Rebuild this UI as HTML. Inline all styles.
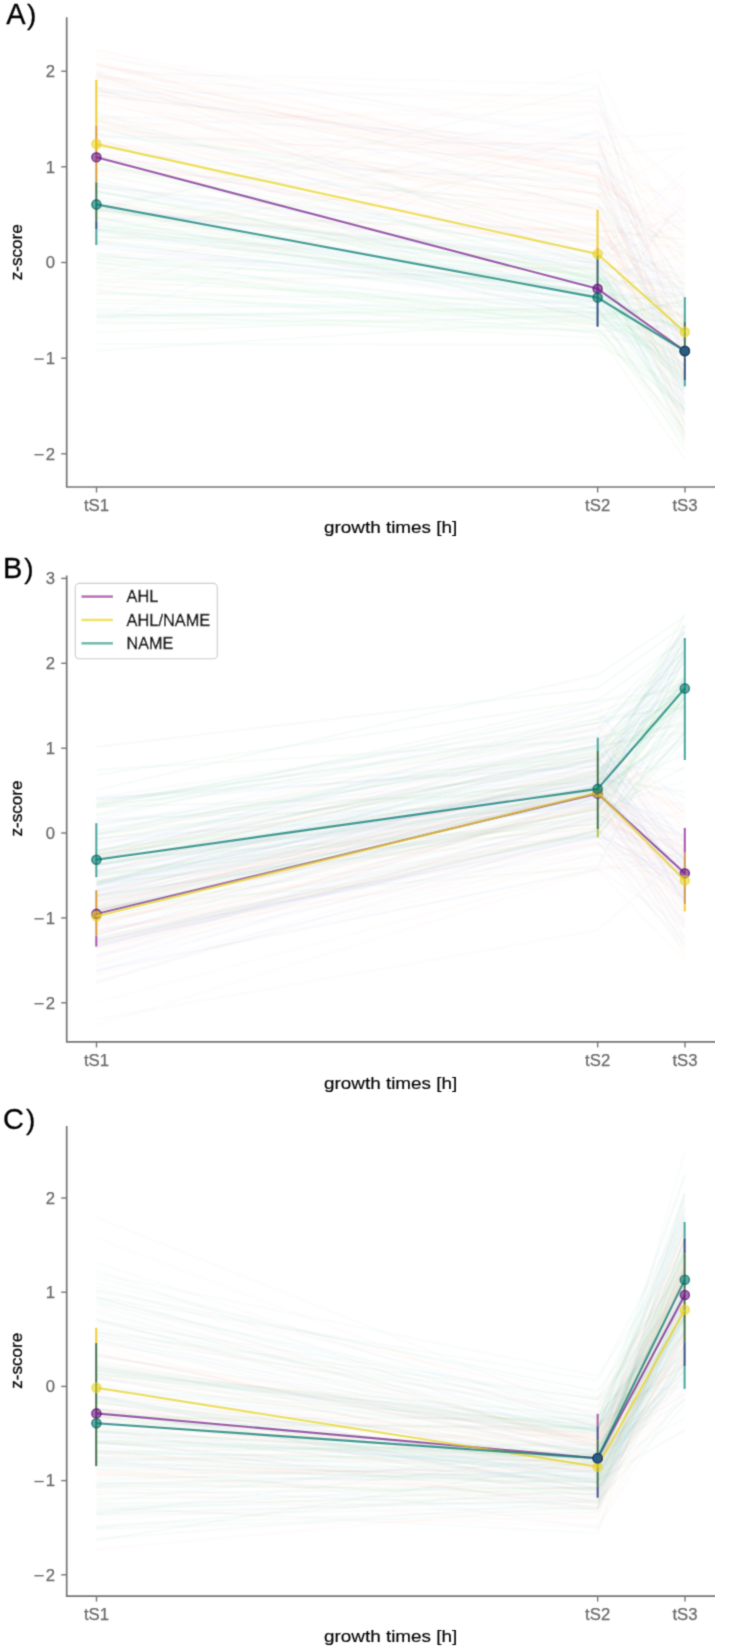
<!DOCTYPE html><html><head><meta charset="utf-8"><style>html,body{margin:0;padding:0;background:#fff;}svg{display:block;}</style></head><body>
<svg width="732" height="1652" viewBox="0 0 732 1652" font-family='"Liberation Sans", sans-serif'>
<defs><filter id="bl" x="0" y="0" width="100%" height="100%"><feConvolveMatrix order="3" kernelMatrix="1 4 1 4 16 4 1 4 1" divisor="36" edgeMode="duplicate"/></filter></defs>
<rect width="732" height="1652" fill="#fff"/>
<g filter="url(#bl)">
<path d="M66.7 17.2V487.0H714.4" fill="none" stroke="#767676" stroke-width="1.7"/>
<line x1="61.2" y1="71.2" x2="66.7" y2="71.2" stroke="#767676" stroke-width="1.4"/>
<text x="55.0" y="76.9" font-size="16.7" fill="#6a6a6a" stroke="#6a6a6a" stroke-width="0.25" text-anchor="end">2</text>
<line x1="61.2" y1="166.8" x2="66.7" y2="166.8" stroke="#767676" stroke-width="1.4"/>
<text x="55.0" y="172.6" font-size="16.7" fill="#6a6a6a" stroke="#6a6a6a" stroke-width="0.25" text-anchor="end">1</text>
<line x1="61.2" y1="262.5" x2="66.7" y2="262.5" stroke="#767676" stroke-width="1.4"/>
<text x="55.0" y="268.2" font-size="16.7" fill="#6a6a6a" stroke="#6a6a6a" stroke-width="0.25" text-anchor="end">0</text>
<line x1="61.2" y1="358.2" x2="66.7" y2="358.2" stroke="#767676" stroke-width="1.4"/>
<text x="55.0" y="363.9" font-size="16.7" fill="#6a6a6a" stroke="#6a6a6a" stroke-width="0.25" text-anchor="end">1</text>
<rect x="34.4" y="358.41" width="9.3" height="1.35" fill="#6a6a6a"/>
<line x1="61.2" y1="453.8" x2="66.7" y2="453.8" stroke="#767676" stroke-width="1.4"/>
<text x="55.0" y="459.6" font-size="16.7" fill="#6a6a6a" stroke="#6a6a6a" stroke-width="0.25" text-anchor="end">2</text>
<rect x="34.4" y="454.07" width="9.3" height="1.35" fill="#6a6a6a"/>
<line x1="96.5" y1="487.0" x2="96.5" y2="492.5" stroke="#767676" stroke-width="1.4"/>
<text x="96.5" y="511.0" font-size="16.7" fill="#6a6a6a" stroke="#6a6a6a" stroke-width="0.25" text-anchor="middle">tS1</text>
<line x1="597.65" y1="487.0" x2="597.65" y2="492.5" stroke="#767676" stroke-width="1.4"/>
<text x="597.65" y="511.0" font-size="16.7" fill="#6a6a6a" stroke="#6a6a6a" stroke-width="0.25" text-anchor="middle">tS2</text>
<line x1="685.0" y1="487.0" x2="685.0" y2="492.5" stroke="#767676" stroke-width="1.4"/>
<text x="685.0" y="511.0" font-size="16.7" fill="#6a6a6a" stroke="#6a6a6a" stroke-width="0.25" text-anchor="middle">tS3</text>
<text x="6.3" y="24.0" font-size="29" fill="#000" stroke="#000" stroke-width="0.3">A</text>
<text x="27" y="24.0" font-size="28" fill="#000" stroke="#000" stroke-width="0.3">)</text>
<text transform="translate(22.2,252.2) rotate(-90)" font-size="16.7" fill="#000" stroke="#000" stroke-width="0.28" text-anchor="middle" textLength="56" lengthAdjust="spacingAndGlyphs">z-score</text>
<text x="324.0" y="532.8" font-size="16.7" fill="#000" stroke="#000" stroke-width="0.15" textLength="133.3" lengthAdjust="spacingAndGlyphs">growth times [h]</text>
<g fill="none" stroke-width="2.2" stroke-opacity="0.027" stroke-linejoin="round">
<polyline points="96.4,65.9 597.65,137.3 684.8,133.5" stroke="#6890e8"/>
<polyline points="96.4,64.5 597.65,193.7 684.8,245.9" stroke="#ff8060"/>
<polyline points="96.4,79.1 597.65,195.5 684.8,148.1" stroke="#ff8060"/>
<polyline points="96.4,63.4 597.65,161.4 684.8,360.1" stroke="#ff8060"/>
<polyline points="96.4,63.6 597.65,176.0 684.8,232.8" stroke="#ff8060"/>
<polyline points="96.4,73.3 597.65,263.5 684.8,220.9" stroke="#6890e8"/>
<polyline points="96.4,127.1 597.65,247.0 684.8,332.9" stroke="#ff8060"/>
<polyline points="96.4,65.2 597.65,177.7 684.8,390.0" stroke="#ff8060"/>
<polyline points="96.4,87.7 597.65,176.2 684.8,376.2" stroke="#ff8060"/>
<polyline points="96.4,133.5 597.65,162.1 684.8,316.6" stroke="#6890e8"/>
<polyline points="96.4,51.0 597.65,141.5 684.8,236.1" stroke="#ff8060"/>
<polyline points="96.4,64.0 597.65,187.9 684.8,356.5" stroke="#ff8060"/>
<polyline points="96.4,60.0 597.65,205.3 684.8,311.2" stroke="#ff8060"/>
<polyline points="96.4,70.8 597.65,246.2 684.8,359.9" stroke="#ff8060"/>
<polyline points="96.4,77.1 597.65,108.1 684.8,297.9" stroke="#ff8060"/>
<polyline points="96.4,76.4 597.65,210.3 684.8,294.7" stroke="#6890e8"/>
<polyline points="96.4,94.3 597.65,155.2 684.8,287.4" stroke="#6890e8"/>
<polyline points="96.4,95.1 597.65,153.3 684.8,211.5" stroke="#ff8060"/>
<polyline points="96.4,94.1 597.65,247.8 684.8,307.5" stroke="#ff8060"/>
<polyline points="96.4,142.9 597.65,216.2 684.8,376.8" stroke="#ff8060"/>
<polyline points="96.4,90.9 597.65,181.8 684.8,237.9" stroke="#ff8060"/>
<polyline points="96.4,145.9 597.65,325.8 684.8,190.4" stroke="#ff8060"/>
<polyline points="96.4,119.8 597.65,241.6 684.8,283.6" stroke="#ff8060"/>
<polyline points="96.4,80.1 597.65,210.6 684.8,411.4" stroke="#ff8060"/>
<polyline points="96.4,129.6 597.65,164.7 684.8,309.5" stroke="#ff8060"/>
<polyline points="96.4,159.8 597.65,242.9 684.8,247.4" stroke="#ff8060"/>
<polyline points="96.4,116.4 597.65,139.1 684.8,353.0" stroke="#6890e8"/>
<polyline points="96.4,54.0 597.65,174.0 684.8,267.3" stroke="#ff8060"/>
<polyline points="96.4,75.6 597.65,176.8 684.8,370.0" stroke="#ff8060"/>
<polyline points="96.4,134.4 597.65,193.8 684.8,320.5" stroke="#6890e8"/>
<polyline points="96.4,101.3 597.65,220.3 684.8,253.7" stroke="#ff8060"/>
<polyline points="96.4,88.6 597.65,208.9 684.8,434.8" stroke="#ff8060"/>
<polyline points="96.4,118.6 597.65,164.6 684.8,284.8" stroke="#ff8060"/>
<polyline points="96.4,90.3 597.65,263.5 684.8,177.3" stroke="#ff8060"/>
<polyline points="96.4,121.6 597.65,265.6 684.8,338.1" stroke="#ff8060"/>
<polyline points="96.4,49.2 597.65,176.5 684.8,298.7" stroke="#ff8060"/>
<polyline points="96.4,136.9 597.65,145.1 684.8,377.6" stroke="#6890e8"/>
<polyline points="96.4,126.2 597.65,193.8 684.8,342.7" stroke="#ff8060"/>
<polyline points="96.4,120.3 597.65,207.8 684.8,215.5" stroke="#ff8060"/>
<polyline points="96.4,75.8 597.65,177.9 684.8,250.7" stroke="#ff8060"/>
<polyline points="96.4,153.7 597.65,250.0 684.8,415.0" stroke="#ff8060"/>
<polyline points="96.4,88.8 597.65,232.2 684.8,220.2" stroke="#ff8060"/>
<polyline points="96.4,117.8 597.65,113.4 684.8,195.7" stroke="#ff8060"/>
<polyline points="96.4,142.7 597.65,192.9 684.8,434.6" stroke="#ff8060"/>
<polyline points="96.4,95.8 597.65,147.6 684.8,312.7" stroke="#ff8060"/>
<polyline points="96.4,133.8 597.65,297.6 684.8,202.2" stroke="#ff8060"/>
<polyline points="96.4,120.3 597.65,256.1 684.8,208.5" stroke="#6890e8"/>
<polyline points="96.4,124.0 597.65,229.6 684.8,336.6" stroke="#ff8060"/>
<polyline points="96.4,107.0 597.65,155.3 684.8,326.9" stroke="#ff8060"/>
<polyline points="96.4,112.4 597.65,266.8 684.8,273.4" stroke="#6890e8"/>
<polyline points="96.4,78.1 597.65,173.0 684.8,265.3" stroke="#ff8060"/>
<polyline points="96.4,73.1 597.65,195.6 684.8,187.8" stroke="#ff8060"/>
<polyline points="96.4,72.4 597.65,84.6 684.8,405.3" stroke="#6890e8"/>
<polyline points="96.4,138.1 597.65,321.3 684.8,366.6" stroke="#6890e8"/>
<polyline points="96.4,68.5 597.65,101.6 684.8,280.5" stroke="#ff8060"/>
<polyline points="96.4,102.0 597.65,210.7 684.8,342.1" stroke="#ff8060"/>
<polyline points="96.4,157.5 597.65,244.9 684.8,366.2" stroke="#ff8060"/>
<polyline points="96.4,74.1 597.65,162.1 684.8,289.6" stroke="#6890e8"/>
<polyline points="96.4,92.2 597.65,95.5 684.8,357.6" stroke="#6890e8"/>
<polyline points="96.4,75.4 597.65,155.9 684.8,147.2" stroke="#ff8060"/>
</g>
<g fill="none" stroke-width="2.2" stroke-opacity="0.027" stroke-linejoin="round">
<polyline points="96.4,160.3 597.65,179.7 684.8,355.3" stroke="#6890e8"/>
<polyline points="96.4,155.2 597.65,229.4 684.8,239.2" stroke="#ff8060"/>
<polyline points="96.4,156.5 597.65,253.2 684.8,170.8" stroke="#6890e8"/>
<polyline points="96.4,288.4 597.65,265.9 684.8,318.7" stroke="#ff8060"/>
<polyline points="96.4,223.8 597.65,286.5 684.8,274.9" stroke="#6890e8"/>
<polyline points="96.4,198.1 597.65,320.1 684.8,415.2" stroke="#6890e8"/>
<polyline points="96.4,167.9 597.65,236.0 684.8,376.5" stroke="#ff8060"/>
<polyline points="96.4,120.5 597.65,235.9 684.8,290.2" stroke="#3cb45a"/>
<polyline points="96.4,205.7 597.65,327.5 684.8,429.2" stroke="#ff8060"/>
<polyline points="96.4,261.9 597.65,333.5 684.8,459.1" stroke="#3cb45a"/>
<polyline points="96.4,245.6 597.65,308.5 684.8,440.7" stroke="#6890e8"/>
<polyline points="96.4,240.1 597.65,289.8 684.8,377.7" stroke="#3cb45a"/>
<polyline points="96.4,153.4 597.65,182.7 684.8,377.1" stroke="#6890e8"/>
<polyline points="96.4,211.7 597.65,232.4 684.8,336.7" stroke="#ff8060"/>
<polyline points="96.4,232.6 597.65,292.6 684.8,335.4" stroke="#6890e8"/>
<polyline points="96.4,217.7 597.65,313.5 684.8,198.1" stroke="#6890e8"/>
<polyline points="96.4,186.8 597.65,234.8 684.8,321.0" stroke="#ff8060"/>
<polyline points="96.4,184.0 597.65,252.6 684.8,269.5" stroke="#6890e8"/>
<polyline points="96.4,151.8 597.65,264.2 684.8,437.0" stroke="#6890e8"/>
<polyline points="96.4,236.0 597.65,262.5 684.8,289.5" stroke="#6890e8"/>
<polyline points="96.4,166.7 597.65,213.6 684.8,395.3" stroke="#ff8060"/>
<polyline points="96.4,87.0 597.65,183.6 684.8,427.2" stroke="#3cb45a"/>
<polyline points="96.4,171.8 597.65,280.2 684.8,374.8" stroke="#ff8060"/>
<polyline points="96.4,163.5 597.65,207.5 684.8,247.0" stroke="#3cb45a"/>
<polyline points="96.4,187.0 597.65,236.4 684.8,303.6" stroke="#6890e8"/>
<polyline points="96.4,112.8 597.65,212.0 684.8,437.2" stroke="#ff8060"/>
<polyline points="96.4,155.5 597.65,255.9 684.8,394.8" stroke="#ff8060"/>
<polyline points="96.4,186.7 597.65,269.7 684.8,408.7" stroke="#6890e8"/>
<polyline points="96.4,57.2 597.65,135.7 684.8,415.4" stroke="#6890e8"/>
<polyline points="96.4,192.7 597.65,239.9 684.8,425.6" stroke="#6890e8"/>
<polyline points="96.4,168.9 597.65,205.1 684.8,297.6" stroke="#6890e8"/>
<polyline points="96.4,203.1 597.65,270.6 684.8,318.9" stroke="#ff8060"/>
<polyline points="96.4,147.1 597.65,220.8 684.8,353.9" stroke="#6890e8"/>
<polyline points="96.4,129.7 597.65,203.7 684.8,351.9" stroke="#3cb45a"/>
<polyline points="96.4,202.3 597.65,241.7 684.8,332.5" stroke="#ff8060"/>
<polyline points="96.4,135.0 597.65,186.0 684.8,258.4" stroke="#3cb45a"/>
<polyline points="96.4,90.7 597.65,163.4 684.8,389.1" stroke="#6890e8"/>
<polyline points="96.4,200.1 597.65,284.1 684.8,399.9" stroke="#3cb45a"/>
<polyline points="96.4,205.8 597.65,318.9 684.8,300.6" stroke="#3cb45a"/>
<polyline points="96.4,87.7 597.65,160.3 684.8,405.7" stroke="#6890e8"/>
<polyline points="96.4,82.8 597.65,166.6 684.8,414.0" stroke="#ff8060"/>
<polyline points="96.4,217.7 597.65,239.0 684.8,227.8" stroke="#ff8060"/>
<polyline points="96.4,144.3 597.65,239.4 684.8,283.7" stroke="#ff8060"/>
<polyline points="96.4,170.2 597.65,216.5 684.8,329.5" stroke="#ff8060"/>
<polyline points="96.4,115.6 597.65,215.6 684.8,324.6" stroke="#ff8060"/>
<polyline points="96.4,117.8 597.65,235.2 684.8,280.0" stroke="#3cb45a"/>
<polyline points="96.4,205.3 597.65,260.3 684.8,382.9" stroke="#ff8060"/>
<polyline points="96.4,145.3 597.65,200.4 684.8,423.9" stroke="#ff8060"/>
<polyline points="96.4,196.6 597.65,278.2 684.8,288.5" stroke="#3cb45a"/>
<polyline points="96.4,210.3 597.65,259.8 684.8,440.9" stroke="#3cb45a"/>
</g>
<g fill="none" stroke-width="2.2" stroke-opacity="0.031" stroke-linejoin="round">
<polyline points="96.4,293.6 597.65,301.2 684.8,307.3" stroke="#3cb45a"/>
<polyline points="96.4,225.6 597.65,301.8 684.8,384.8" stroke="#3cb45a"/>
<polyline points="96.4,242.8 597.65,308.0 684.8,414.2" stroke="#6890e8"/>
<polyline points="96.4,169.8 597.65,257.1 684.8,326.2" stroke="#3cb45a"/>
<polyline points="96.4,191.0 597.65,279.0 684.8,332.7" stroke="#3cb45a"/>
<polyline points="96.4,226.3 597.65,275.0 684.8,385.6" stroke="#3cb45a"/>
<polyline points="96.4,290.2 597.65,333.1 684.8,356.5" stroke="#3cb45a"/>
<polyline points="96.4,236.0 597.65,285.5 684.8,356.2" stroke="#3cb45a"/>
<polyline points="96.4,241.0 597.65,301.7 684.8,329.5" stroke="#6890e8"/>
<polyline points="96.4,268.2 597.65,321.4 684.8,354.1" stroke="#3cb45a"/>
<polyline points="96.4,321.7 597.65,329.8 684.8,412.4" stroke="#3cb45a"/>
<polyline points="96.4,231.2 597.65,292.1 684.8,304.8" stroke="#3cb45a"/>
<polyline points="96.4,241.7 597.65,299.5 684.8,296.4" stroke="#3cb45a"/>
<polyline points="96.4,266.6 597.65,318.6 684.8,340.8" stroke="#3cb45a"/>
<polyline points="96.4,216.7 597.65,308.1 684.8,376.8" stroke="#3cb45a"/>
<polyline points="96.4,255.5 597.65,298.5 684.8,379.6" stroke="#3cb45a"/>
<polyline points="96.4,237.7 597.65,241.1 684.8,327.4" stroke="#3cb45a"/>
<polyline points="96.4,270.4 597.65,324.4 684.8,329.0" stroke="#3cb45a"/>
<polyline points="96.4,209.8 597.65,293.5 684.8,388.0" stroke="#3cb45a"/>
<polyline points="96.4,279.3 597.65,276.1 684.8,351.6" stroke="#3cb45a"/>
<polyline points="96.4,317.5 597.65,307.9 684.8,410.8" stroke="#3cb45a"/>
<polyline points="96.4,344.0 597.65,344.6 684.8,389.8" stroke="#3cb45a"/>
<polyline points="96.4,183.7 597.65,268.8 684.8,387.9" stroke="#6890e8"/>
<polyline points="96.4,207.4 597.65,263.2 684.8,378.1" stroke="#6890e8"/>
<polyline points="96.4,225.4 597.65,282.0 684.8,433.1" stroke="#3cb45a"/>
<polyline points="96.4,315.3 597.65,316.1 684.8,301.5" stroke="#6890e8"/>
<polyline points="96.4,162.7 597.65,273.8 684.8,395.7" stroke="#3cb45a"/>
<polyline points="96.4,281.1 597.65,304.2 684.8,369.3" stroke="#3cb45a"/>
<polyline points="96.4,332.5 597.65,314.5 684.8,438.4" stroke="#3cb45a"/>
<polyline points="96.4,274.2 597.65,315.1 684.8,305.6" stroke="#3cb45a"/>
<polyline points="96.4,206.4 597.65,304.1 684.8,338.8" stroke="#6890e8"/>
<polyline points="96.4,222.6 597.65,268.6 684.8,317.2" stroke="#3cb45a"/>
<polyline points="96.4,208.7 597.65,263.2 684.8,293.1" stroke="#6890e8"/>
<polyline points="96.4,228.3 597.65,286.2 684.8,332.5" stroke="#3cb45a"/>
<polyline points="96.4,350.7 597.65,319.1 684.8,409.7" stroke="#3cb45a"/>
<polyline points="96.4,218.5 597.65,266.2 684.8,330.0" stroke="#3cb45a"/>
<polyline points="96.4,303.2 597.65,313.0 684.8,380.9" stroke="#3cb45a"/>
<polyline points="96.4,309.5 597.65,331.4 684.8,324.5" stroke="#3cb45a"/>
<polyline points="96.4,125.3 597.65,281.1 684.8,295.7" stroke="#3cb45a"/>
<polyline points="96.4,315.6 597.65,311.9 684.8,313.7" stroke="#3cb45a"/>
<polyline points="96.4,299.6 597.65,311.9 684.8,371.3" stroke="#3cb45a"/>
<polyline points="96.4,174.2 597.65,277.0 684.8,372.7" stroke="#3cb45a"/>
<polyline points="96.4,183.3 597.65,277.5 684.8,326.9" stroke="#3cb45a"/>
<polyline points="96.4,209.7 597.65,257.9 684.8,333.7" stroke="#6890e8"/>
<polyline points="96.4,88.4 597.65,255.4 684.8,393.6" stroke="#6890e8"/>
<polyline points="96.4,163.4 597.65,260.3 684.8,434.6" stroke="#3cb45a"/>
<polyline points="96.4,257.6 597.65,269.1 684.8,379.8" stroke="#3cb45a"/>
<polyline points="96.4,324.1 597.65,317.1 684.8,322.6" stroke="#3cb45a"/>
<polyline points="96.4,259.5 597.65,291.9 684.8,357.4" stroke="#3cb45a"/>
<polyline points="96.4,312.2 597.65,337.9 684.8,408.6" stroke="#3cb45a"/>
<polyline points="96.4,178.7 597.65,308.1 684.8,327.0" stroke="#3cb45a"/>
<polyline points="96.4,263.3 597.65,281.6 684.8,283.6" stroke="#3cb45a"/>
<polyline points="96.4,285.4 597.65,321.8 684.8,299.4" stroke="#3cb45a"/>
<polyline points="96.4,208.0 597.65,294.1 684.8,365.6" stroke="#3cb45a"/>
<polyline points="96.4,308.6 597.65,302.3 684.8,410.9" stroke="#6890e8"/>
<polyline points="96.4,248.2 597.65,290.4 684.8,341.6" stroke="#6890e8"/>
<polyline points="96.4,243.3 597.65,296.7 684.8,382.0" stroke="#6890e8"/>
<polyline points="96.4,218.9 597.65,298.0 684.8,353.8" stroke="#3cb45a"/>
<polyline points="96.4,154.9 597.65,300.1 684.8,404.5" stroke="#6890e8"/>
<polyline points="96.4,190.4 597.65,295.8 684.8,418.3" stroke="#3cb45a"/>
<polyline points="96.4,230.2 597.65,301.2 684.8,294.9" stroke="#6890e8"/>
<polyline points="96.4,229.4 597.65,295.7 684.8,330.0" stroke="#3cb45a"/>
<polyline points="96.4,192.4 597.65,280.1 684.8,253.9" stroke="#3cb45a"/>
<polyline points="96.4,185.7 597.65,293.2 684.8,402.4" stroke="#6890e8"/>
<polyline points="96.4,253.7 597.65,280.7 684.8,334.6" stroke="#6890e8"/>
<polyline points="96.4,139.2 597.65,274.0 684.8,409.3" stroke="#3cb45a"/>
<polyline points="96.4,163.9 597.65,279.8 684.8,382.0" stroke="#3cb45a"/>
<polyline points="96.4,258.8 597.65,314.1 684.8,316.0" stroke="#3cb45a"/>
<polyline points="96.4,228.5 597.65,283.7 684.8,366.5" stroke="#6890e8"/>
<polyline points="96.4,263.1 597.65,312.0 684.8,393.2" stroke="#6890e8"/>
<polyline points="96.4,191.5 597.65,283.0 684.8,334.9" stroke="#3cb45a"/>
<polyline points="96.4,315.5 597.65,307.9 684.8,449.8" stroke="#3cb45a"/>
<polyline points="96.4,252.9 597.65,329.7 684.8,429.1" stroke="#3cb45a"/>
<polyline points="96.4,230.2 597.65,275.1 684.8,422.8" stroke="#3cb45a"/>
<polyline points="96.4,256.4 597.65,284.5 684.8,389.2" stroke="#6890e8"/>
<polyline points="96.4,317.9 597.65,324.5 684.8,444.2" stroke="#3cb45a"/>
<polyline points="96.4,206.5 597.65,273.0 684.8,330.9" stroke="#6890e8"/>
<polyline points="96.4,201.8 597.65,296.2 684.8,293.0" stroke="#6890e8"/>
<polyline points="96.4,292.3 597.65,323.7 684.8,355.5" stroke="#3cb45a"/>
<polyline points="96.4,209.8 597.65,270.5 684.8,367.8" stroke="#3cb45a"/>
</g>
<g fill="none" stroke-width="2.2" stroke-opacity="0.027" stroke-linejoin="round">
<polyline points="96.4,214.0 597.65,230.5 684.8,239.5" stroke="#3cb45a"/>
<polyline points="96.4,207.3 597.65,110.8 684.8,190.5" stroke="#6890e8"/>
<polyline points="96.4,273.4 597.65,143.9 684.8,303.4" stroke="#ff8060"/>
<polyline points="96.4,146.5 597.65,142.6 684.8,328.0" stroke="#ff8060"/>
<polyline points="96.4,222.8 597.65,132.5 684.8,221.6" stroke="#6890e8"/>
<polyline points="96.4,285.8 597.65,179.6 684.8,252.8" stroke="#ff8060"/>
<polyline points="96.4,242.3 597.65,119.8 684.8,356.2" stroke="#ff8060"/>
<polyline points="96.4,323.5 597.65,130.6 684.8,342.6" stroke="#6890e8"/>
<polyline points="96.4,212.0 597.65,87.1 684.8,322.0" stroke="#3cb45a"/>
<polyline points="96.4,244.0 597.65,138.8 684.8,381.4" stroke="#ff8060"/>
<polyline points="96.4,210.3 597.65,70.0 684.8,262.0" stroke="#ff8060"/>
<polyline points="96.4,294.9 597.65,129.9 684.8,231.5" stroke="#ff8060"/>
<polyline points="96.4,231.2 597.65,162.6 684.8,234.7" stroke="#3cb45a"/>
<polyline points="96.4,255.3 597.65,227.0 684.8,322.4" stroke="#ff8060"/>
<polyline points="96.4,128.1 597.65,100.5 684.8,351.2" stroke="#ff8060"/>
</g>
<line x1="96.3" y1="79.8" x2="96.3" y2="125.6" stroke="#f0cd35" stroke-width="2"/>
<line x1="96.3" y1="125.6" x2="96.3" y2="182.3" stroke="#d99a3a" stroke-width="2"/>
<line x1="96.3" y1="182.3" x2="96.3" y2="221.1" stroke="#46734f" stroke-width="2"/>
<line x1="96.3" y1="221.1" x2="96.3" y2="229.3" stroke="#34507f" stroke-width="2"/>
<line x1="96.3" y1="229.3" x2="96.3" y2="245" stroke="#4aa59c" stroke-width="2"/>
<line x1="597.55" y1="209.7" x2="597.55" y2="247.5" stroke="#f0cd35" stroke-width="2"/>
<line x1="597.55" y1="247.5" x2="597.55" y2="255.4" stroke="#d99a3a" stroke-width="2"/>
<line x1="597.55" y1="255.4" x2="597.55" y2="302.6" stroke="#3f6468" stroke-width="2"/>
<line x1="597.55" y1="302.6" x2="597.55" y2="326.7" stroke="#34507f" stroke-width="2"/>
<line x1="684.8" y1="297.1" x2="684.8" y2="322" stroke="#4aa59c" stroke-width="2"/>
<line x1="684.8" y1="322" x2="684.8" y2="357.9" stroke="#46734f" stroke-width="2"/>
<line x1="684.8" y1="357.9" x2="684.8" y2="380" stroke="#34507f" stroke-width="2"/>
<line x1="684.8" y1="380" x2="684.8" y2="386.3" stroke="#4aa59c" stroke-width="2"/>
<polyline points="96.4,157.3 597.65,288.8 684.8,351.0" fill="none" stroke="#761a8c" stroke-opacity="0.72" stroke-width="2.1" stroke-linejoin="round"/>
<circle cx="96.4" cy="157.3" r="4.6" fill="#761a8c" fill-opacity="0.65" stroke="#5c0a72" stroke-opacity="0.72" stroke-width="1.4"/>
<circle cx="597.65" cy="288.8" r="4.6" fill="#761a8c" fill-opacity="0.65" stroke="#5c0a72" stroke-opacity="0.72" stroke-width="1.4"/>
<circle cx="684.8" cy="351.0" r="4.6" fill="#761a8c" fill-opacity="0.65" stroke="#5c0a72" stroke-opacity="0.72" stroke-width="1.4"/>
<polyline points="96.4,144.1 597.65,254.0 684.8,332.0" fill="none" stroke="#e8d218" stroke-opacity="0.72" stroke-width="2.1" stroke-linejoin="round"/>
<circle cx="96.4" cy="144.1" r="4.6" fill="#e8d218" fill-opacity="0.54" stroke="#e8d218" stroke-opacity="0.6" stroke-width="1.4"/>
<circle cx="597.65" cy="254.0" r="4.6" fill="#e8d218" fill-opacity="0.54" stroke="#e8d218" stroke-opacity="0.6" stroke-width="1.4"/>
<circle cx="684.8" cy="332.0" r="4.6" fill="#e8d218" fill-opacity="0.54" stroke="#e8d218" stroke-opacity="0.6" stroke-width="1.4"/>
<polyline points="96.4,204.4 597.65,297.6 684.8,351.0" fill="none" stroke="#0a7e76" stroke-opacity="0.78" stroke-width="2.1" stroke-linejoin="round"/>
<circle cx="96.4" cy="204.4" r="4.6" fill="#0a7e76" fill-opacity="0.65" stroke="#03625c" stroke-opacity="0.72" stroke-width="1.4"/>
<circle cx="597.65" cy="297.6" r="4.6" fill="#0a7e76" fill-opacity="0.65" stroke="#03625c" stroke-opacity="0.72" stroke-width="1.4"/>
<circle cx="684.8" cy="351.0" r="4.6" fill="#0a7e76" fill-opacity="0.65" stroke="#03625c" stroke-opacity="0.72" stroke-width="1.4"/>
<path d="M66.7 575.4V1041.9H714.4" fill="none" stroke="#767676" stroke-width="1.7"/>
<line x1="61.2" y1="578.4" x2="66.7" y2="578.4" stroke="#767676" stroke-width="1.4"/>
<text x="55.0" y="584.1" font-size="16.7" fill="#6a6a6a" stroke="#6a6a6a" stroke-width="0.25" text-anchor="end">3</text>
<line x1="61.2" y1="663.3" x2="66.7" y2="663.3" stroke="#767676" stroke-width="1.4"/>
<text x="55.0" y="669.0" font-size="16.7" fill="#6a6a6a" stroke="#6a6a6a" stroke-width="0.25" text-anchor="end">2</text>
<line x1="61.2" y1="748.2" x2="66.7" y2="748.2" stroke="#767676" stroke-width="1.4"/>
<text x="55.0" y="753.9" font-size="16.7" fill="#6a6a6a" stroke="#6a6a6a" stroke-width="0.25" text-anchor="end">1</text>
<line x1="61.2" y1="833.0" x2="66.7" y2="833.0" stroke="#767676" stroke-width="1.4"/>
<text x="55.0" y="838.8" font-size="16.7" fill="#6a6a6a" stroke="#6a6a6a" stroke-width="0.25" text-anchor="end">0</text>
<line x1="61.2" y1="917.9" x2="66.7" y2="917.9" stroke="#767676" stroke-width="1.4"/>
<text x="55.0" y="923.7" font-size="16.7" fill="#6a6a6a" stroke="#6a6a6a" stroke-width="0.25" text-anchor="end">1</text>
<rect x="34.4" y="918.17" width="9.3" height="1.35" fill="#6a6a6a"/>
<line x1="61.2" y1="1002.8" x2="66.7" y2="1002.8" stroke="#767676" stroke-width="1.4"/>
<text x="55.0" y="1008.5" font-size="16.7" fill="#6a6a6a" stroke="#6a6a6a" stroke-width="0.25" text-anchor="end">2</text>
<rect x="34.4" y="1003.05" width="9.3" height="1.35" fill="#6a6a6a"/>
<line x1="96.5" y1="1041.9" x2="96.5" y2="1047.4" stroke="#767676" stroke-width="1.4"/>
<text x="96.5" y="1065.9" font-size="16.7" fill="#6a6a6a" stroke="#6a6a6a" stroke-width="0.25" text-anchor="middle">tS1</text>
<line x1="597.65" y1="1041.9" x2="597.65" y2="1047.4" stroke="#767676" stroke-width="1.4"/>
<text x="597.65" y="1065.9" font-size="16.7" fill="#6a6a6a" stroke="#6a6a6a" stroke-width="0.25" text-anchor="middle">tS2</text>
<line x1="685.0" y1="1041.9" x2="685.0" y2="1047.4" stroke="#767676" stroke-width="1.4"/>
<text x="685.0" y="1065.9" font-size="16.7" fill="#6a6a6a" stroke="#6a6a6a" stroke-width="0.25" text-anchor="middle">tS3</text>
<text x="3" y="577.6" font-size="29" fill="#000" stroke="#000" stroke-width="0.3">B</text>
<text x="24.3" y="577.6" font-size="28" fill="#000" stroke="#000" stroke-width="0.3">)</text>
<text transform="translate(22.2,808.5) rotate(-90)" font-size="16.7" fill="#000" stroke="#000" stroke-width="0.28" text-anchor="middle" textLength="56" lengthAdjust="spacingAndGlyphs">z-score</text>
<text x="324.0" y="1088.5" font-size="16.7" fill="#000" stroke="#000" stroke-width="0.15" textLength="133.3" lengthAdjust="spacingAndGlyphs">growth times [h]</text>
<g fill="none" stroke-width="2.2" stroke-opacity="0.027" stroke-linejoin="round">
<polyline points="96.4,908.2 597.65,771.9 684.8,860.1" stroke="#ff8060"/>
<polyline points="96.4,925.7 597.65,786.9 684.8,927.9" stroke="#6890e8"/>
<polyline points="96.4,880.2 597.65,768.5 684.8,896.6" stroke="#ff8060"/>
<polyline points="96.4,854.5 597.65,743.0 684.8,811.8" stroke="#ff8060"/>
<polyline points="96.4,944.2 597.65,800.7 684.8,887.6" stroke="#ff8060"/>
<polyline points="96.4,944.9 597.65,830.7 684.8,859.7" stroke="#6890e8"/>
<polyline points="96.4,891.9 597.65,795.1 684.8,859.9" stroke="#6890e8"/>
<polyline points="96.4,930.3 597.65,865.4 684.8,876.3" stroke="#ff8060"/>
<polyline points="96.4,896.4 597.65,816.0 684.8,835.9" stroke="#6890e8"/>
<polyline points="96.4,894.8 597.65,795.9 684.8,938.0" stroke="#ff8060"/>
<polyline points="96.4,912.1 597.65,758.0 684.8,828.3" stroke="#ff8060"/>
<polyline points="96.4,920.0 597.65,833.0 684.8,811.0" stroke="#ff8060"/>
<polyline points="96.4,971.6 597.65,868.9 684.8,927.0" stroke="#6890e8"/>
<polyline points="96.4,974.1 597.65,859.1 684.8,897.6" stroke="#ff8060"/>
<polyline points="96.4,957.0 597.65,816.1 684.8,845.7" stroke="#ff8060"/>
<polyline points="96.4,835.3 597.65,705.4 684.8,852.1" stroke="#6890e8"/>
<polyline points="96.4,940.2 597.65,837.3 684.8,888.5" stroke="#6890e8"/>
<polyline points="96.4,954.8 597.65,826.6 684.8,901.7" stroke="#ff8060"/>
<polyline points="96.4,874.4 597.65,727.0 684.8,823.5" stroke="#ff8060"/>
<polyline points="96.4,906.9 597.65,765.0 684.8,901.6" stroke="#ff8060"/>
<polyline points="96.4,924.4 597.65,763.8 684.8,841.7" stroke="#ff8060"/>
<polyline points="96.4,910.4 597.65,808.6 684.8,878.4" stroke="#ff8060"/>
<polyline points="96.4,910.5 597.65,809.1 684.8,780.7" stroke="#6890e8"/>
<polyline points="96.4,896.1 597.65,771.3 684.8,884.6" stroke="#ff8060"/>
<polyline points="96.4,899.5 597.65,798.7 684.8,838.8" stroke="#6890e8"/>
<polyline points="96.4,935.0 597.65,805.5 684.8,802.8" stroke="#ff8060"/>
<polyline points="96.4,908.7 597.65,773.8 684.8,877.9" stroke="#ff8060"/>
<polyline points="96.4,947.0 597.65,829.3 684.8,890.8" stroke="#ff8060"/>
<polyline points="96.4,865.3 597.65,752.5 684.8,797.0" stroke="#6890e8"/>
<polyline points="96.4,895.2 597.65,770.9 684.8,861.2" stroke="#6890e8"/>
<polyline points="96.4,857.8 597.65,725.3 684.8,815.2" stroke="#ff8060"/>
<polyline points="96.4,923.2 597.65,806.9 684.8,887.6" stroke="#ff8060"/>
<polyline points="96.4,981.0 597.65,842.0 684.8,863.9" stroke="#ff8060"/>
<polyline points="96.4,964.7 597.65,811.3 684.8,892.8" stroke="#6890e8"/>
<polyline points="96.4,880.3 597.65,802.7 684.8,870.6" stroke="#6890e8"/>
<polyline points="96.4,912.4 597.65,775.8 684.8,811.1" stroke="#ff8060"/>
<polyline points="96.4,922.2 597.65,808.7 684.8,874.0" stroke="#ff8060"/>
<polyline points="96.4,872.6 597.65,737.5 684.8,828.9" stroke="#ff8060"/>
<polyline points="96.4,942.6 597.65,824.4 684.8,847.2" stroke="#ff8060"/>
<polyline points="96.4,843.9 597.65,740.3 684.8,859.7" stroke="#6890e8"/>
<polyline points="96.4,945.1 597.65,832.3 684.8,884.8" stroke="#6890e8"/>
<polyline points="96.4,901.4 597.65,793.9 684.8,857.6" stroke="#6890e8"/>
<polyline points="96.4,889.4 597.65,795.5 684.8,878.9" stroke="#ff8060"/>
<polyline points="96.4,883.0 597.65,781.8 684.8,852.1" stroke="#ff8060"/>
<polyline points="96.4,950.2 597.65,819.5 684.8,852.3" stroke="#ff8060"/>
<polyline points="96.4,955.9 597.65,844.6 684.8,873.4" stroke="#6890e8"/>
<polyline points="96.4,932.8 597.65,813.8 684.8,899.2" stroke="#ff8060"/>
<polyline points="96.4,927.5 597.65,778.1 684.8,957.9" stroke="#ff8060"/>
<polyline points="96.4,941.1 597.65,836.3 684.8,872.3" stroke="#6890e8"/>
<polyline points="96.4,904.4 597.65,788.8 684.8,907.2" stroke="#ff8060"/>
<polyline points="96.4,911.8 597.65,792.5 684.8,915.0" stroke="#ff8060"/>
<polyline points="96.4,934.5 597.65,814.0 684.8,870.9" stroke="#ff8060"/>
<polyline points="96.4,924.3 597.65,785.3 684.8,910.6" stroke="#ff8060"/>
<polyline points="96.4,942.4 597.65,830.7 684.8,911.7" stroke="#ff8060"/>
<polyline points="96.4,939.5 597.65,804.9 684.8,865.7" stroke="#ff8060"/>
<polyline points="96.4,948.0 597.65,843.4 684.8,926.8" stroke="#ff8060"/>
<polyline points="96.4,838.8 597.65,721.9 684.8,881.2" stroke="#ff8060"/>
<polyline points="96.4,891.9 597.65,764.6 684.8,854.1" stroke="#6890e8"/>
<polyline points="96.4,876.2 597.65,758.5 684.8,838.2" stroke="#6890e8"/>
<polyline points="96.4,901.7 597.65,822.2 684.8,921.8" stroke="#ff8060"/>
<polyline points="96.4,894.9 597.65,808.0 684.8,921.5" stroke="#ff8060"/>
<polyline points="96.4,911.1 597.65,802.3 684.8,818.4" stroke="#6890e8"/>
<polyline points="96.4,904.6 597.65,795.7 684.8,857.4" stroke="#6890e8"/>
<polyline points="96.4,890.6 597.65,749.3 684.8,862.6" stroke="#6890e8"/>
<polyline points="96.4,871.5 597.65,765.2 684.8,883.7" stroke="#6890e8"/>
<polyline points="96.4,870.5 597.65,775.4 684.8,846.2" stroke="#ff8060"/>
<polyline points="96.4,846.6 597.65,713.2 684.8,869.4" stroke="#ff8060"/>
<polyline points="96.4,892.2 597.65,791.7 684.8,858.9" stroke="#ff8060"/>
<polyline points="96.4,909.0 597.65,804.0 684.8,895.9" stroke="#ff8060"/>
<polyline points="96.4,958.2 597.65,796.9 684.8,947.0" stroke="#6890e8"/>
</g>
<g fill="none" stroke-width="2.2" stroke-opacity="0.027" stroke-linejoin="round">
<polyline points="96.4,913.2 597.65,804.2 684.8,921.6" stroke="#ff8060"/>
<polyline points="96.4,884.3 597.65,777.4 684.8,917.9" stroke="#6890e8"/>
<polyline points="96.4,882.5 597.65,757.0 684.8,870.0" stroke="#6890e8"/>
<polyline points="96.4,939.4 597.65,827.9 684.8,922.7" stroke="#6890e8"/>
<polyline points="96.4,934.7 597.65,792.3 684.8,870.1" stroke="#6890e8"/>
<polyline points="96.4,893.4 597.65,783.7 684.8,881.8" stroke="#6890e8"/>
<polyline points="96.4,931.4 597.65,789.6 684.8,874.6" stroke="#6890e8"/>
<polyline points="96.4,937.8 597.65,842.1 684.8,948.7" stroke="#6890e8"/>
<polyline points="96.4,855.7 597.65,761.0 684.8,812.5" stroke="#ff8060"/>
<polyline points="96.4,952.5 597.65,796.8 684.8,840.9" stroke="#ff8060"/>
<polyline points="96.4,884.3 597.65,789.2 684.8,830.2" stroke="#6890e8"/>
<polyline points="96.4,941.2 597.65,818.9 684.8,864.5" stroke="#6890e8"/>
<polyline points="96.4,929.6 597.65,843.5 684.8,893.1" stroke="#ff8060"/>
<polyline points="96.4,885.7 597.65,732.2 684.8,910.8" stroke="#6890e8"/>
<polyline points="96.4,884.9 597.65,775.8 684.8,806.5" stroke="#6890e8"/>
<polyline points="96.4,1025.2 597.65,870.1 684.8,960.7" stroke="#ff8060"/>
<polyline points="96.4,970.4 597.65,853.8 684.8,875.7" stroke="#6890e8"/>
<polyline points="96.4,972.1 597.65,815.7 684.8,863.1" stroke="#6890e8"/>
<polyline points="96.4,871.1 597.65,780.8 684.8,875.4" stroke="#6890e8"/>
<polyline points="96.4,1002.2 597.65,868.6 684.8,852.6" stroke="#ff8060"/>
<polyline points="96.4,961.7 597.65,835.7 684.8,940.1" stroke="#ff8060"/>
<polyline points="96.4,947.7 597.65,795.8 684.8,835.0" stroke="#6890e8"/>
<polyline points="96.4,825.1 597.65,735.9 684.8,894.5" stroke="#6890e8"/>
<polyline points="96.4,925.1 597.65,805.2 684.8,860.8" stroke="#ff8060"/>
<polyline points="96.4,935.8 597.65,785.7 684.8,938.4" stroke="#6890e8"/>
<polyline points="96.4,901.3 597.65,793.9 684.8,884.6" stroke="#ff8060"/>
<polyline points="96.4,982.7 597.65,837.9 684.8,840.0" stroke="#6890e8"/>
<polyline points="96.4,906.5 597.65,762.7 684.8,878.2" stroke="#6890e8"/>
<polyline points="96.4,845.6 597.65,745.6 684.8,903.2" stroke="#6890e8"/>
<polyline points="96.4,930.1 597.65,852.4 684.8,944.0" stroke="#6890e8"/>
<polyline points="96.4,932.7 597.65,821.4 684.8,895.2" stroke="#6890e8"/>
<polyline points="96.4,946.6 597.65,817.6 684.8,900.0" stroke="#6890e8"/>
<polyline points="96.4,862.7 597.65,712.2 684.8,809.1" stroke="#6890e8"/>
<polyline points="96.4,932.9 597.65,840.5 684.8,952.4" stroke="#ff8060"/>
<polyline points="96.4,899.9 597.65,771.5 684.8,797.2" stroke="#6890e8"/>
<polyline points="96.4,896.1 597.65,814.7 684.8,869.7" stroke="#6890e8"/>
<polyline points="96.4,890.5 597.65,798.7 684.8,877.0" stroke="#6890e8"/>
<polyline points="96.4,908.9 597.65,791.2 684.8,899.0" stroke="#6890e8"/>
<polyline points="96.4,885.1 597.65,745.3 684.8,843.0" stroke="#6890e8"/>
<polyline points="96.4,896.6 597.65,758.4 684.8,904.0" stroke="#6890e8"/>
<polyline points="96.4,855.8 597.65,754.7 684.8,851.0" stroke="#ff8060"/>
<polyline points="96.4,1019.3 597.65,930.4 684.8,853.0" stroke="#6890e8"/>
<polyline points="96.4,869.2 597.65,757.4 684.8,892.7" stroke="#6890e8"/>
<polyline points="96.4,944.5 597.65,836.6 684.8,924.7" stroke="#6890e8"/>
<polyline points="96.4,911.7 597.65,777.3 684.8,850.9" stroke="#6890e8"/>
<polyline points="96.4,904.2 597.65,788.5 684.8,887.6" stroke="#ff8060"/>
<polyline points="96.4,955.5 597.65,797.5 684.8,877.2" stroke="#6890e8"/>
<polyline points="96.4,941.4 597.65,823.4 684.8,867.6" stroke="#ff8060"/>
<polyline points="96.4,919.2 597.65,789.5 684.8,878.4" stroke="#6890e8"/>
<polyline points="96.4,856.3 597.65,728.1 684.8,871.7" stroke="#6890e8"/>
<polyline points="96.4,970.0 597.65,869.9 684.8,860.7" stroke="#6890e8"/>
<polyline points="96.4,901.5 597.65,786.1 684.8,855.3" stroke="#ff8060"/>
<polyline points="96.4,886.1 597.65,786.6 684.8,837.3" stroke="#6890e8"/>
<polyline points="96.4,864.4 597.65,753.4 684.8,818.2" stroke="#ff8060"/>
<polyline points="96.4,911.8 597.65,768.5 684.8,882.7" stroke="#6890e8"/>
<polyline points="96.4,982.2 597.65,829.5 684.8,942.9" stroke="#6890e8"/>
<polyline points="96.4,965.9 597.65,834.1 684.8,881.4" stroke="#6890e8"/>
<polyline points="96.4,941.0 597.65,855.1 684.8,854.5" stroke="#ff8060"/>
<polyline points="96.4,918.5 597.65,818.7 684.8,876.0" stroke="#6890e8"/>
<polyline points="96.4,946.8 597.65,833.1 684.8,898.6" stroke="#6890e8"/>
</g>
<g fill="none" stroke-width="2.2" stroke-opacity="0.037" stroke-linejoin="round">
<polyline points="96.4,839.7 597.65,771.3 684.8,695.7" stroke="#3cb45a"/>
<polyline points="96.4,746.9 597.65,687.9 684.8,625.0" stroke="#3cb45a"/>
<polyline points="96.4,941.4 597.65,831.2 684.8,696.0" stroke="#3cb45a"/>
<polyline points="96.4,866.0 597.65,789.0 684.8,661.1" stroke="#6890e8"/>
<polyline points="96.4,819.3 597.65,803.6 684.8,653.0" stroke="#6890e8"/>
<polyline points="96.4,801.1 597.65,735.6 684.8,630.9" stroke="#3cb45a"/>
<polyline points="96.4,833.9 597.65,748.3 684.8,721.6" stroke="#3cb45a"/>
<polyline points="96.4,851.2 597.65,773.9 684.8,698.1" stroke="#3cb45a"/>
<polyline points="96.4,854.9 597.65,775.2 684.8,708.1" stroke="#3cb45a"/>
<polyline points="96.4,850.0 597.65,788.3 684.8,732.3" stroke="#3cb45a"/>
<polyline points="96.4,864.2 597.65,797.8 684.8,651.3" stroke="#3cb45a"/>
<polyline points="96.4,804.7 597.65,728.5 684.8,644.1" stroke="#3cb45a"/>
<polyline points="96.4,906.9 597.65,792.7 684.8,725.5" stroke="#3cb45a"/>
<polyline points="96.4,909.5 597.65,835.1 684.8,732.3" stroke="#3cb45a"/>
<polyline points="96.4,859.2 597.65,782.7 684.8,699.3" stroke="#3cb45a"/>
<polyline points="96.4,832.9 597.65,741.2 684.8,662.9" stroke="#6890e8"/>
<polyline points="96.4,913.7 597.65,784.8 684.8,632.3" stroke="#6890e8"/>
<polyline points="96.4,855.1 597.65,783.2 684.8,647.0" stroke="#3cb45a"/>
<polyline points="96.4,797.6 597.65,722.8 684.8,693.1" stroke="#6890e8"/>
<polyline points="96.4,873.2 597.65,817.6 684.8,687.5" stroke="#3cb45a"/>
<polyline points="96.4,852.9 597.65,722.3 684.8,632.5" stroke="#6890e8"/>
<polyline points="96.4,873.5 597.65,771.1 684.8,691.7" stroke="#3cb45a"/>
<polyline points="96.4,833.8 597.65,779.2 684.8,791.6" stroke="#3cb45a"/>
<polyline points="96.4,874.4 597.65,827.9 684.8,732.3" stroke="#3cb45a"/>
<polyline points="96.4,882.6 597.65,780.4 684.8,640.5" stroke="#6890e8"/>
<polyline points="96.4,895.6 597.65,822.7 684.8,734.3" stroke="#3cb45a"/>
<polyline points="96.4,825.6 597.65,746.4 684.8,670.0" stroke="#3cb45a"/>
<polyline points="96.4,806.8 597.65,792.8 684.8,754.6" stroke="#3cb45a"/>
<polyline points="96.4,910.2 597.65,812.8 684.8,767.0" stroke="#3cb45a"/>
<polyline points="96.4,864.6 597.65,778.8 684.8,627.5" stroke="#3cb45a"/>
<polyline points="96.4,850.6 597.65,759.1 684.8,689.2" stroke="#3cb45a"/>
<polyline points="96.4,876.1 597.65,791.0 684.8,638.4" stroke="#3cb45a"/>
<polyline points="96.4,884.8 597.65,819.0 684.8,678.3" stroke="#3cb45a"/>
<polyline points="96.4,910.2 597.65,807.6 684.8,711.4" stroke="#3cb45a"/>
<polyline points="96.4,831.3 597.65,745.7 684.8,732.2" stroke="#3cb45a"/>
<polyline points="96.4,857.4 597.65,805.9 684.8,638.3" stroke="#6890e8"/>
<polyline points="96.4,882.7 597.65,835.6 684.8,739.6" stroke="#3cb45a"/>
<polyline points="96.4,888.2 597.65,789.6 684.8,690.1" stroke="#3cb45a"/>
<polyline points="96.4,901.4 597.65,809.8 684.8,692.8" stroke="#3cb45a"/>
<polyline points="96.4,858.8 597.65,800.4 684.8,686.7" stroke="#3cb45a"/>
<polyline points="96.4,882.2 597.65,776.0 684.8,624.7" stroke="#3cb45a"/>
<polyline points="96.4,814.2 597.65,700.7 684.8,689.2" stroke="#3cb45a"/>
<polyline points="96.4,829.5 597.65,752.3 684.8,631.9" stroke="#3cb45a"/>
<polyline points="96.4,797.9 597.65,765.8 684.8,770.0" stroke="#6890e8"/>
<polyline points="96.4,803.5 597.65,730.5 684.8,650.9" stroke="#6890e8"/>
<polyline points="96.4,858.4 597.65,748.3 684.8,649.8" stroke="#3cb45a"/>
<polyline points="96.4,870.5 597.65,785.2 684.8,625.4" stroke="#6890e8"/>
<polyline points="96.4,881.5 597.65,807.1 684.8,677.4" stroke="#3cb45a"/>
<polyline points="96.4,906.6 597.65,867.2 684.8,691.6" stroke="#3cb45a"/>
<polyline points="96.4,867.3 597.65,750.6 684.8,692.2" stroke="#3cb45a"/>
<polyline points="96.4,913.3 597.65,785.0 684.8,613.6" stroke="#3cb45a"/>
<polyline points="96.4,799.7 597.65,766.3 684.8,636.2" stroke="#6890e8"/>
<polyline points="96.4,815.3 597.65,723.1 684.8,703.8" stroke="#3cb45a"/>
<polyline points="96.4,860.3 597.65,745.1 684.8,656.1" stroke="#6890e8"/>
<polyline points="96.4,865.0 597.65,786.3 684.8,683.9" stroke="#3cb45a"/>
<polyline points="96.4,860.4 597.65,824.5 684.8,657.1" stroke="#3cb45a"/>
<polyline points="96.4,822.5 597.65,781.0 684.8,678.4" stroke="#3cb45a"/>
<polyline points="96.4,858.1 597.65,760.7 684.8,705.3" stroke="#3cb45a"/>
<polyline points="96.4,798.8 597.65,756.5 684.8,705.2" stroke="#3cb45a"/>
<polyline points="96.4,769.8 597.65,740.0 684.8,705.0" stroke="#3cb45a"/>
<polyline points="96.4,920.8 597.65,836.3 684.8,715.3" stroke="#3cb45a"/>
<polyline points="96.4,839.7 597.65,762.0 684.8,643.7" stroke="#3cb45a"/>
<polyline points="96.4,865.0 597.65,794.5 684.8,722.5" stroke="#3cb45a"/>
<polyline points="96.4,790.0 597.65,674.9 684.8,616.6" stroke="#3cb45a"/>
<polyline points="96.4,864.7 597.65,782.0 684.8,710.4" stroke="#6890e8"/>
<polyline points="96.4,851.9 597.65,718.8 684.8,707.3" stroke="#3cb45a"/>
<polyline points="96.4,943.9 597.65,830.1 684.8,703.5" stroke="#6890e8"/>
<polyline points="96.4,775.0 597.65,700.1 684.8,639.2" stroke="#3cb45a"/>
<polyline points="96.4,806.2 597.65,711.8 684.8,682.8" stroke="#3cb45a"/>
<polyline points="96.4,884.1 597.65,775.7 684.8,706.9" stroke="#6890e8"/>
<polyline points="96.4,853.8 597.65,755.7 684.8,678.0" stroke="#3cb45a"/>
<polyline points="96.4,838.2 597.65,804.8 684.8,740.4" stroke="#6890e8"/>
<polyline points="96.4,871.4 597.65,796.1 684.8,651.4" stroke="#6890e8"/>
<polyline points="96.4,842.4 597.65,790.1 684.8,738.7" stroke="#6890e8"/>
<polyline points="96.4,898.4 597.65,809.7 684.8,651.4" stroke="#3cb45a"/>
<polyline points="96.4,835.3 597.65,746.8 684.8,686.1" stroke="#3cb45a"/>
<polyline points="96.4,876.8 597.65,802.1 684.8,697.6" stroke="#3cb45a"/>
<polyline points="96.4,917.9 597.65,809.0 684.8,684.5" stroke="#3cb45a"/>
<polyline points="96.4,853.9 597.65,795.1 684.8,677.8" stroke="#3cb45a"/>
<polyline points="96.4,890.2 597.65,793.2 684.8,728.1" stroke="#6890e8"/>
<polyline points="96.4,819.3 597.65,704.6 684.8,668.5" stroke="#6890e8"/>
<polyline points="96.4,807.4 597.65,737.0 684.8,724.8" stroke="#3cb45a"/>
<polyline points="96.4,881.0 597.65,773.8 684.8,683.6" stroke="#3cb45a"/>
<polyline points="96.4,804.9 597.65,760.0 684.8,687.9" stroke="#3cb45a"/>
<polyline points="96.4,849.7 597.65,759.3 684.8,678.1" stroke="#6890e8"/>
<polyline points="96.4,803.4 597.65,719.0 684.8,677.2" stroke="#3cb45a"/>
<polyline points="96.4,821.4 597.65,769.9 684.8,681.2" stroke="#6890e8"/>
<polyline points="96.4,883.0 597.65,753.9 684.8,648.6" stroke="#3cb45a"/>
<polyline points="96.4,937.6 597.65,830.4 684.8,656.7" stroke="#3cb45a"/>
<polyline points="96.4,897.1 597.65,786.5 684.8,673.0" stroke="#3cb45a"/>
</g>
<line x1="96.3" y1="823.2" x2="96.3" y2="877.2" stroke="#4aa59c" stroke-width="2"/>
<line x1="96.3" y1="890.3" x2="96.3" y2="936.1" stroke="#d99a3a" stroke-width="2"/>
<line x1="96.3" y1="936.1" x2="96.3" y2="946.6" stroke="#a855a8" stroke-width="2"/>
<line x1="597.75" y1="737.7" x2="597.75" y2="751" stroke="#4aa59c" stroke-width="2"/>
<line x1="597.75" y1="751" x2="597.75" y2="829" stroke="#46734f" stroke-width="2"/>
<line x1="597.75" y1="829" x2="597.75" y2="837.3" stroke="#b8c040" stroke-width="2"/>
<line x1="684.8" y1="638" x2="684.8" y2="760" stroke="#4aa59c" stroke-width="2"/>
<line x1="684.8" y1="827.9" x2="684.8" y2="852.7" stroke="#a855a8" stroke-width="2"/>
<line x1="684.8" y1="852.7" x2="684.8" y2="904.2" stroke="#c9985a" stroke-width="2"/>
<line x1="684.8" y1="904.2" x2="684.8" y2="911.5" stroke="#f0cd35" stroke-width="2"/>
<polyline points="96.4,913.9 597.65,793.4 684.8,873.3" fill="none" stroke="#761a8c" stroke-opacity="0.72" stroke-width="2.1" stroke-linejoin="round"/>
<circle cx="96.4" cy="913.9" r="4.6" fill="#761a8c" fill-opacity="0.65" stroke="#5c0a72" stroke-opacity="0.72" stroke-width="1.4"/>
<circle cx="597.65" cy="793.4" r="4.6" fill="#761a8c" fill-opacity="0.65" stroke="#5c0a72" stroke-opacity="0.72" stroke-width="1.4"/>
<circle cx="684.8" cy="873.3" r="4.6" fill="#761a8c" fill-opacity="0.65" stroke="#5c0a72" stroke-opacity="0.72" stroke-width="1.4"/>
<polyline points="96.4,916.3 597.65,792.4 684.8,880.6" fill="none" stroke="#e8d218" stroke-opacity="0.72" stroke-width="2.1" stroke-linejoin="round"/>
<circle cx="96.4" cy="916.3" r="4.6" fill="#e8d218" fill-opacity="0.54" stroke="#e8d218" stroke-opacity="0.6" stroke-width="1.4"/>
<circle cx="597.65" cy="792.4" r="4.6" fill="#e8d218" fill-opacity="0.54" stroke="#e8d218" stroke-opacity="0.6" stroke-width="1.4"/>
<circle cx="684.8" cy="880.6" r="4.6" fill="#e8d218" fill-opacity="0.54" stroke="#e8d218" stroke-opacity="0.6" stroke-width="1.4"/>
<polyline points="96.4,859.8 597.65,788.9 684.8,688.4" fill="none" stroke="#0a7e76" stroke-opacity="0.78" stroke-width="2.1" stroke-linejoin="round"/>
<circle cx="96.4" cy="859.8" r="4.6" fill="#0a7e76" fill-opacity="0.65" stroke="#03625c" stroke-opacity="0.72" stroke-width="1.4"/>
<circle cx="597.65" cy="788.9" r="4.6" fill="#0a7e76" fill-opacity="0.65" stroke="#03625c" stroke-opacity="0.72" stroke-width="1.4"/>
<circle cx="684.8" cy="688.4" r="4.6" fill="#0a7e76" fill-opacity="0.65" stroke="#03625c" stroke-opacity="0.72" stroke-width="1.4"/>
<path d="M66.7 1126.1V1596.1H714.4" fill="none" stroke="#767676" stroke-width="1.7"/>
<line x1="61.2" y1="1198.0" x2="66.7" y2="1198.0" stroke="#767676" stroke-width="1.4"/>
<text x="55.0" y="1203.7" font-size="16.7" fill="#6a6a6a" stroke="#6a6a6a" stroke-width="0.25" text-anchor="end">2</text>
<line x1="61.2" y1="1292.2" x2="66.7" y2="1292.2" stroke="#767676" stroke-width="1.4"/>
<text x="55.0" y="1297.9" font-size="16.7" fill="#6a6a6a" stroke="#6a6a6a" stroke-width="0.25" text-anchor="end">1</text>
<line x1="61.2" y1="1386.4" x2="66.7" y2="1386.4" stroke="#767676" stroke-width="1.4"/>
<text x="55.0" y="1392.2" font-size="16.7" fill="#6a6a6a" stroke="#6a6a6a" stroke-width="0.25" text-anchor="end">0</text>
<line x1="61.2" y1="1480.6" x2="66.7" y2="1480.6" stroke="#767676" stroke-width="1.4"/>
<text x="55.0" y="1486.4" font-size="16.7" fill="#6a6a6a" stroke="#6a6a6a" stroke-width="0.25" text-anchor="end">1</text>
<rect x="34.4" y="1480.86" width="9.3" height="1.35" fill="#6a6a6a"/>
<line x1="61.2" y1="1574.8" x2="66.7" y2="1574.8" stroke="#767676" stroke-width="1.4"/>
<text x="55.0" y="1580.6" font-size="16.7" fill="#6a6a6a" stroke="#6a6a6a" stroke-width="0.25" text-anchor="end">2</text>
<rect x="34.4" y="1575.07" width="9.3" height="1.35" fill="#6a6a6a"/>
<line x1="96.5" y1="1596.1" x2="96.5" y2="1601.6" stroke="#767676" stroke-width="1.4"/>
<text x="96.5" y="1620.1" font-size="16.7" fill="#6a6a6a" stroke="#6a6a6a" stroke-width="0.25" text-anchor="middle">tS1</text>
<line x1="597.65" y1="1596.1" x2="597.65" y2="1601.6" stroke="#767676" stroke-width="1.4"/>
<text x="597.65" y="1620.1" font-size="16.7" fill="#6a6a6a" stroke="#6a6a6a" stroke-width="0.25" text-anchor="middle">tS2</text>
<line x1="685.0" y1="1596.1" x2="685.0" y2="1601.6" stroke="#767676" stroke-width="1.4"/>
<text x="685.0" y="1620.1" font-size="16.7" fill="#6a6a6a" stroke="#6a6a6a" stroke-width="0.25" text-anchor="middle">tS3</text>
<text x="3" y="1128.8" font-size="29" fill="#000" stroke="#000" stroke-width="0.3">C</text>
<text x="26" y="1128.8" font-size="28" fill="#000" stroke="#000" stroke-width="0.3">)</text>
<text transform="translate(22.2,1360.7) rotate(-90)" font-size="16.7" fill="#000" stroke="#000" stroke-width="0.28" text-anchor="middle" textLength="56" lengthAdjust="spacingAndGlyphs">z-score</text>
<text x="324.0" y="1642.4" font-size="16.7" fill="#000" stroke="#000" stroke-width="0.15" textLength="133.3" lengthAdjust="spacingAndGlyphs">growth times [h]</text>
<g fill="none" stroke-width="2.2" stroke-opacity="0.027" stroke-linejoin="round">
<polyline points="96.4,1304.3 597.65,1448.3 684.8,1230.5" stroke="#58a8a0"/>
<polyline points="96.4,1419.6 597.65,1455.8 684.8,1244.0" stroke="#ff8060"/>
<polyline points="96.4,1395.6 597.65,1462.2 684.8,1262.4" stroke="#ff8060"/>
<polyline points="96.4,1450.3 597.65,1465.9 684.8,1270.1" stroke="#58a8a0"/>
<polyline points="96.4,1335.2 597.65,1414.0 684.8,1280.3" stroke="#ff8060"/>
<polyline points="96.4,1409.0 597.65,1422.4 684.8,1280.8" stroke="#ff8060"/>
<polyline points="96.4,1303.2 597.65,1407.7 684.8,1269.3" stroke="#58a8a0"/>
<polyline points="96.4,1441.2 597.65,1501.5 684.8,1329.9" stroke="#ff8060"/>
<polyline points="96.4,1415.6 597.65,1433.4 684.8,1355.6" stroke="#ff8060"/>
<polyline points="96.4,1465.3 597.65,1478.3 684.8,1305.5" stroke="#ff8060"/>
<polyline points="96.4,1392.3 597.65,1454.5 684.8,1238.6" stroke="#ff8060"/>
<polyline points="96.4,1469.9 597.65,1471.5 684.8,1296.8" stroke="#ff8060"/>
<polyline points="96.4,1414.7 597.65,1437.5 684.8,1231.7" stroke="#ff8060"/>
<polyline points="96.4,1423.1 597.65,1465.5 684.8,1238.2" stroke="#ff8060"/>
<polyline points="96.4,1369.3 597.65,1425.3 684.8,1333.9" stroke="#58a8a0"/>
<polyline points="96.4,1427.6 597.65,1467.1 684.8,1261.8" stroke="#ff8060"/>
<polyline points="96.4,1468.6 597.65,1482.5 684.8,1319.1" stroke="#58a8a0"/>
<polyline points="96.4,1361.0 597.65,1443.3 684.8,1299.0" stroke="#ff8060"/>
<polyline points="96.4,1410.4 597.65,1445.6 684.8,1282.6" stroke="#ff8060"/>
<polyline points="96.4,1378.6 597.65,1452.6 684.8,1285.4" stroke="#ff8060"/>
<polyline points="96.4,1367.0 597.65,1445.7 684.8,1346.2" stroke="#58a8a0"/>
<polyline points="96.4,1376.0 597.65,1444.0 684.8,1343.7" stroke="#ff8060"/>
<polyline points="96.4,1364.2 597.65,1455.3 684.8,1257.3" stroke="#58a8a0"/>
<polyline points="96.4,1441.8 597.65,1435.6 684.8,1333.4" stroke="#ff8060"/>
<polyline points="96.4,1273.6 597.65,1375.8 684.8,1247.3" stroke="#58a8a0"/>
<polyline points="96.4,1472.8 597.65,1508.5 684.8,1335.0" stroke="#ff8060"/>
<polyline points="96.4,1336.3 597.65,1412.2 684.8,1250.0" stroke="#58a8a0"/>
<polyline points="96.4,1283.2 597.65,1397.1 684.8,1386.5" stroke="#58a8a0"/>
<polyline points="96.4,1349.5 597.65,1446.5 684.8,1291.0" stroke="#ff8060"/>
<polyline points="96.4,1435.8 597.65,1470.3 684.8,1308.3" stroke="#58a8a0"/>
<polyline points="96.4,1426.7 597.65,1475.9 684.8,1333.0" stroke="#58a8a0"/>
<polyline points="96.4,1408.4 597.65,1471.2 684.8,1263.4" stroke="#ff8060"/>
<polyline points="96.4,1452.0 597.65,1490.0 684.8,1355.8" stroke="#ff8060"/>
<polyline points="96.4,1432.1 597.65,1483.5 684.8,1204.1" stroke="#58a8a0"/>
<polyline points="96.4,1409.9 597.65,1431.6 684.8,1262.2" stroke="#ff8060"/>
<polyline points="96.4,1472.5 597.65,1502.2 684.8,1396.6" stroke="#ff8060"/>
<polyline points="96.4,1378.2 597.65,1451.8 684.8,1249.4" stroke="#58a8a0"/>
<polyline points="96.4,1367.3 597.65,1429.5 684.8,1207.2" stroke="#ff8060"/>
<polyline points="96.4,1460.5 597.65,1460.1 684.8,1381.5" stroke="#58a8a0"/>
<polyline points="96.4,1399.6 597.65,1482.3 684.8,1368.0" stroke="#58a8a0"/>
<polyline points="96.4,1529.2 597.65,1516.4 684.8,1349.5" stroke="#ff8060"/>
<polyline points="96.4,1443.0 597.65,1471.2 684.8,1249.3" stroke="#ff8060"/>
<polyline points="96.4,1413.2 597.65,1466.6 684.8,1267.1" stroke="#ff8060"/>
<polyline points="96.4,1487.4 597.65,1480.9 684.8,1282.5" stroke="#ff8060"/>
<polyline points="96.4,1462.1 597.65,1440.8 684.8,1358.3" stroke="#ff8060"/>
<polyline points="96.4,1328.4 597.65,1425.0 684.8,1363.1" stroke="#58a8a0"/>
<polyline points="96.4,1402.0 597.65,1467.5 684.8,1265.2" stroke="#ff8060"/>
<polyline points="96.4,1333.0 597.65,1406.2 684.8,1250.9" stroke="#58a8a0"/>
<polyline points="96.4,1434.3 597.65,1479.5 684.8,1276.7" stroke="#58a8a0"/>
<polyline points="96.4,1464.6 597.65,1467.8 684.8,1417.9" stroke="#58a8a0"/>
<polyline points="96.4,1399.2 597.65,1469.2 684.8,1271.1" stroke="#ff8060"/>
<polyline points="96.4,1367.0 597.65,1463.0 684.8,1345.6" stroke="#ff8060"/>
<polyline points="96.4,1490.1 597.65,1517.8 684.8,1296.4" stroke="#ff8060"/>
<polyline points="96.4,1278.4 597.65,1405.7 684.8,1260.0" stroke="#ff8060"/>
<polyline points="96.4,1506.8 597.65,1533.3 684.8,1270.4" stroke="#58a8a0"/>
<polyline points="96.4,1367.4 597.65,1439.4 684.8,1316.1" stroke="#ff8060"/>
<polyline points="96.4,1549.4 597.65,1503.9 684.8,1325.0" stroke="#ff8060"/>
<polyline points="96.4,1477.6 597.65,1490.0 684.8,1295.1" stroke="#ff8060"/>
<polyline points="96.4,1455.4 597.65,1464.5 684.8,1307.9" stroke="#ff8060"/>
<polyline points="96.4,1443.1 597.65,1458.2 684.8,1251.7" stroke="#58a8a0"/>
<polyline points="96.4,1456.9 597.65,1477.0 684.8,1315.6" stroke="#58a8a0"/>
<polyline points="96.4,1290.9 597.65,1399.5 684.8,1261.9" stroke="#ff8060"/>
<polyline points="96.4,1428.2 597.65,1511.0 684.8,1337.5" stroke="#ff8060"/>
<polyline points="96.4,1376.1 597.65,1463.5 684.8,1275.3" stroke="#ff8060"/>
<polyline points="96.4,1319.6 597.65,1454.3 684.8,1274.6" stroke="#58a8a0"/>
<polyline points="96.4,1474.0 597.65,1468.2 684.8,1314.2" stroke="#ff8060"/>
<polyline points="96.4,1437.2 597.65,1434.4 684.8,1281.2" stroke="#ff8060"/>
<polyline points="96.4,1475.2 597.65,1468.0 684.8,1330.8" stroke="#ff8060"/>
<polyline points="96.4,1472.0 597.65,1477.5 684.8,1273.9" stroke="#ff8060"/>
<polyline points="96.4,1355.3 597.65,1436.4 684.8,1306.0" stroke="#ff8060"/>
</g>
<g fill="none" stroke-width="2.2" stroke-opacity="0.027" stroke-linejoin="round">
<polyline points="96.4,1326.6 597.65,1440.3 684.8,1269.0" stroke="#ff8060"/>
<polyline points="96.4,1301.1 597.65,1432.4 684.8,1302.5" stroke="#58a8a0"/>
<polyline points="96.4,1369.9 597.65,1461.3 684.8,1151.1" stroke="#58a8a0"/>
<polyline points="96.4,1420.1 597.65,1473.8 684.8,1218.3" stroke="#6890e8"/>
<polyline points="96.4,1355.7 597.65,1442.0 684.8,1228.6" stroke="#ff8060"/>
<polyline points="96.4,1238.0 597.65,1427.2 684.8,1363.2" stroke="#ff8060"/>
<polyline points="96.4,1313.4 597.65,1435.8 684.8,1289.3" stroke="#6890e8"/>
<polyline points="96.4,1292.5 597.65,1449.5 684.8,1267.3" stroke="#58a8a0"/>
<polyline points="96.4,1286.8 597.65,1423.4 684.8,1297.9" stroke="#58a8a0"/>
<polyline points="96.4,1383.5 597.65,1464.2 684.8,1292.9" stroke="#6890e8"/>
<polyline points="96.4,1339.3 597.65,1424.9 684.8,1274.6" stroke="#58a8a0"/>
<polyline points="96.4,1276.3 597.65,1416.4 684.8,1355.0" stroke="#58a8a0"/>
<polyline points="96.4,1395.0 597.65,1492.9 684.8,1359.2" stroke="#58a8a0"/>
<polyline points="96.4,1396.6 597.65,1480.0 684.8,1286.0" stroke="#6890e8"/>
<polyline points="96.4,1519.8 597.65,1490.5 684.8,1277.6" stroke="#ff8060"/>
<polyline points="96.4,1373.6 597.65,1438.9 684.8,1390.4" stroke="#ff8060"/>
<polyline points="96.4,1319.0 597.65,1450.2 684.8,1200.0" stroke="#6890e8"/>
<polyline points="96.4,1319.2 597.65,1412.5 684.8,1242.1" stroke="#ff8060"/>
<polyline points="96.4,1459.4 597.65,1476.2 684.8,1357.4" stroke="#6890e8"/>
<polyline points="96.4,1390.8 597.65,1474.7 684.8,1311.3" stroke="#6890e8"/>
<polyline points="96.4,1342.0 597.65,1440.7 684.8,1259.1" stroke="#ff8060"/>
<polyline points="96.4,1452.6 597.65,1503.9 684.8,1330.4" stroke="#ff8060"/>
<polyline points="96.4,1400.6 597.65,1503.2 684.8,1360.6" stroke="#58a8a0"/>
<polyline points="96.4,1353.6 597.65,1455.8 684.8,1275.9" stroke="#ff8060"/>
<polyline points="96.4,1513.1 597.65,1499.0 684.8,1321.1" stroke="#6890e8"/>
<polyline points="96.4,1343.1 597.65,1487.7 684.8,1307.7" stroke="#ff8060"/>
<polyline points="96.4,1397.3 597.65,1469.9 684.8,1374.3" stroke="#6890e8"/>
<polyline points="96.4,1508.9 597.65,1526.9 684.8,1368.5" stroke="#ff8060"/>
<polyline points="96.4,1217.5 597.65,1418.0 684.8,1304.5" stroke="#6890e8"/>
<polyline points="96.4,1421.7 597.65,1497.2 684.8,1273.7" stroke="#ff8060"/>
<polyline points="96.4,1396.8 597.65,1494.8 684.8,1315.3" stroke="#6890e8"/>
<polyline points="96.4,1310.6 597.65,1444.6 684.8,1351.3" stroke="#58a8a0"/>
<polyline points="96.4,1409.4 597.65,1497.2 684.8,1296.0" stroke="#ff8060"/>
<polyline points="96.4,1441.5 597.65,1490.5 684.8,1335.0" stroke="#6890e8"/>
<polyline points="96.4,1429.4 597.65,1447.9 684.8,1317.8" stroke="#58a8a0"/>
<polyline points="96.4,1353.4 597.65,1454.7 684.8,1370.0" stroke="#6890e8"/>
<polyline points="96.4,1490.9 597.65,1525.3 684.8,1356.4" stroke="#ff8060"/>
<polyline points="96.4,1462.5 597.65,1500.0 684.8,1291.4" stroke="#6890e8"/>
<polyline points="96.4,1331.6 597.65,1452.3 684.8,1264.7" stroke="#6890e8"/>
<polyline points="96.4,1458.0 597.65,1528.1 684.8,1387.2" stroke="#6890e8"/>
<polyline points="96.4,1409.1 597.65,1482.4 684.8,1312.5" stroke="#58a8a0"/>
<polyline points="96.4,1384.8 597.65,1482.7 684.8,1376.8" stroke="#6890e8"/>
<polyline points="96.4,1296.3 597.65,1446.8 684.8,1225.1" stroke="#ff8060"/>
<polyline points="96.4,1335.3 597.65,1457.2 684.8,1295.9" stroke="#6890e8"/>
<polyline points="96.4,1320.4 597.65,1441.0 684.8,1269.5" stroke="#ff8060"/>
<polyline points="96.4,1404.2 597.65,1488.7 684.8,1368.6" stroke="#ff8060"/>
<polyline points="96.4,1465.2 597.65,1485.0 684.8,1329.2" stroke="#58a8a0"/>
<polyline points="96.4,1431.3 597.65,1471.9 684.8,1209.8" stroke="#6890e8"/>
<polyline points="96.4,1437.6 597.65,1508.7 684.8,1292.1" stroke="#6890e8"/>
<polyline points="96.4,1449.6 597.65,1503.8 684.8,1331.4" stroke="#ff8060"/>
<polyline points="96.4,1354.5 597.65,1453.0 684.8,1393.1" stroke="#ff8060"/>
<polyline points="96.4,1262.5 597.65,1427.8 684.8,1306.3" stroke="#6890e8"/>
<polyline points="96.4,1306.3 597.65,1444.9 684.8,1268.9" stroke="#ff8060"/>
<polyline points="96.4,1377.4 597.65,1467.5 684.8,1364.1" stroke="#6890e8"/>
<polyline points="96.4,1415.8 597.65,1489.4 684.8,1269.8" stroke="#ff8060"/>
<polyline points="96.4,1408.8 597.65,1488.8 684.8,1350.0" stroke="#6890e8"/>
<polyline points="96.4,1431.3 597.65,1473.4 684.8,1315.1" stroke="#6890e8"/>
<polyline points="96.4,1270.1 597.65,1446.8 684.8,1394.2" stroke="#6890e8"/>
<polyline points="96.4,1425.6 597.65,1426.3 684.8,1365.1" stroke="#58a8a0"/>
<polyline points="96.4,1388.2 597.65,1458.7 684.8,1239.7" stroke="#6890e8"/>
</g>
<g fill="none" stroke-width="2.2" stroke-opacity="0.034" stroke-linejoin="round">
<polyline points="96.4,1437.2 597.65,1464.0 684.8,1319.9" stroke="#58a8a0"/>
<polyline points="96.4,1525.3 597.65,1508.4 684.8,1318.9" stroke="#58a8a0"/>
<polyline points="96.4,1515.3 597.65,1507.1 684.8,1287.9" stroke="#58a8a0"/>
<polyline points="96.4,1466.5 597.65,1481.9 684.8,1298.9" stroke="#58a8a0"/>
<polyline points="96.4,1423.6 597.65,1459.7 684.8,1254.3" stroke="#3cb45a"/>
<polyline points="96.4,1409.5 597.65,1488.6 684.8,1363.2" stroke="#58a8a0"/>
<polyline points="96.4,1528.4 597.65,1512.1 684.8,1305.3" stroke="#58a8a0"/>
<polyline points="96.4,1511.3 597.65,1486.0 684.8,1315.7" stroke="#3cb45a"/>
<polyline points="96.4,1399.9 597.65,1458.4 684.8,1248.8" stroke="#3cb45a"/>
<polyline points="96.4,1369.4 597.65,1437.5 684.8,1323.3" stroke="#58a8a0"/>
<polyline points="96.4,1513.9 597.65,1500.0 684.8,1304.9" stroke="#58a8a0"/>
<polyline points="96.4,1480.2 597.65,1462.8 684.8,1293.4" stroke="#58a8a0"/>
<polyline points="96.4,1440.9 597.65,1458.0 684.8,1237.9" stroke="#3cb45a"/>
<polyline points="96.4,1461.8 597.65,1480.5 684.8,1430.0" stroke="#3cb45a"/>
<polyline points="96.4,1486.4 597.65,1488.2 684.8,1398.7" stroke="#3cb45a"/>
<polyline points="96.4,1388.4 597.65,1425.0 684.8,1255.3" stroke="#3cb45a"/>
<polyline points="96.4,1487.7 597.65,1509.6 684.8,1347.3" stroke="#58a8a0"/>
<polyline points="96.4,1341.8 597.65,1431.6 684.8,1278.1" stroke="#58a8a0"/>
<polyline points="96.4,1402.8 597.65,1452.1 684.8,1272.7" stroke="#3cb45a"/>
<polyline points="96.4,1290.2 597.65,1391.1 684.8,1267.4" stroke="#3cb45a"/>
<polyline points="96.4,1298.8 597.65,1418.6 684.8,1229.9" stroke="#58a8a0"/>
<polyline points="96.4,1442.7 597.65,1483.0 684.8,1302.5" stroke="#58a8a0"/>
<polyline points="96.4,1452.7 597.65,1461.2 684.8,1303.8" stroke="#3cb45a"/>
<polyline points="96.4,1493.9 597.65,1487.5 684.8,1338.2" stroke="#3cb45a"/>
<polyline points="96.4,1378.4 597.65,1431.4 684.8,1254.0" stroke="#58a8a0"/>
<polyline points="96.4,1442.6 597.65,1463.4 684.8,1325.4" stroke="#58a8a0"/>
<polyline points="96.4,1322.8 597.65,1418.9 684.8,1304.4" stroke="#58a8a0"/>
<polyline points="96.4,1513.9 597.65,1452.7 684.8,1199.9" stroke="#58a8a0"/>
<polyline points="96.4,1370.8 597.65,1427.5 684.8,1300.2" stroke="#58a8a0"/>
<polyline points="96.4,1332.2 597.65,1399.2 684.8,1289.4" stroke="#3cb45a"/>
<polyline points="96.4,1503.9 597.65,1497.1 684.8,1292.3" stroke="#3cb45a"/>
<polyline points="96.4,1367.5 597.65,1434.8 684.8,1320.1" stroke="#58a8a0"/>
<polyline points="96.4,1482.3 597.65,1494.2 684.8,1255.5" stroke="#3cb45a"/>
<polyline points="96.4,1417.2 597.65,1472.5 684.8,1326.8" stroke="#3cb45a"/>
<polyline points="96.4,1469.8 597.65,1506.9 684.8,1237.3" stroke="#3cb45a"/>
<polyline points="96.4,1297.4 597.65,1380.3 684.8,1213.5" stroke="#58a8a0"/>
<polyline points="96.4,1431.4 597.65,1460.0 684.8,1217.9" stroke="#58a8a0"/>
<polyline points="96.4,1443.6 597.65,1455.2 684.8,1290.9" stroke="#3cb45a"/>
<polyline points="96.4,1446.9 597.65,1490.7 684.8,1193.3" stroke="#58a8a0"/>
<polyline points="96.4,1362.1 597.65,1440.9 684.8,1296.4" stroke="#58a8a0"/>
<polyline points="96.4,1450.2 597.65,1495.4 684.8,1284.3" stroke="#58a8a0"/>
<polyline points="96.4,1397.6 597.65,1450.9 684.8,1262.5" stroke="#3cb45a"/>
<polyline points="96.4,1321.0 597.65,1399.4 684.8,1218.6" stroke="#58a8a0"/>
<polyline points="96.4,1440.5 597.65,1453.9 684.8,1371.4" stroke="#3cb45a"/>
<polyline points="96.4,1430.5 597.65,1459.4 684.8,1268.1" stroke="#3cb45a"/>
<polyline points="96.4,1356.3 597.65,1427.9 684.8,1208.9" stroke="#58a8a0"/>
<polyline points="96.4,1462.8 597.65,1479.2 684.8,1344.9" stroke="#58a8a0"/>
<polyline points="96.4,1396.5 597.65,1428.7 684.8,1175.6" stroke="#58a8a0"/>
<polyline points="96.4,1417.5 597.65,1418.7 684.8,1223.6" stroke="#3cb45a"/>
<polyline points="96.4,1408.1 597.65,1464.3 684.8,1337.3" stroke="#58a8a0"/>
<polyline points="96.4,1498.5 597.65,1493.9 684.8,1305.8" stroke="#58a8a0"/>
<polyline points="96.4,1371.2 597.65,1430.1 684.8,1268.8" stroke="#58a8a0"/>
<polyline points="96.4,1459.3 597.65,1455.6 684.8,1400.3" stroke="#58a8a0"/>
<polyline points="96.4,1506.2 597.65,1502.0 684.8,1308.6" stroke="#58a8a0"/>
<polyline points="96.4,1423.1 597.65,1428.3 684.8,1284.1" stroke="#3cb45a"/>
<polyline points="96.4,1484.2 597.65,1471.2 684.8,1362.8" stroke="#58a8a0"/>
<polyline points="96.4,1540.3 597.65,1460.4 684.8,1316.6" stroke="#3cb45a"/>
<polyline points="96.4,1527.4 597.65,1487.8 684.8,1353.4" stroke="#3cb45a"/>
<polyline points="96.4,1390.1 597.65,1430.3 684.8,1193.1" stroke="#3cb45a"/>
<polyline points="96.4,1417.3 597.65,1454.3 684.8,1309.9" stroke="#3cb45a"/>
<polyline points="96.4,1431.9 597.65,1458.1 684.8,1377.5" stroke="#3cb45a"/>
<polyline points="96.4,1538.8 597.65,1500.7 684.8,1404.5" stroke="#58a8a0"/>
<polyline points="96.4,1453.8 597.65,1457.6 684.8,1295.5" stroke="#58a8a0"/>
<polyline points="96.4,1510.2 597.65,1477.1 684.8,1306.6" stroke="#58a8a0"/>
<polyline points="96.4,1484.2 597.65,1470.3 684.8,1330.2" stroke="#58a8a0"/>
<polyline points="96.4,1374.1 597.65,1429.3 684.8,1216.0" stroke="#3cb45a"/>
<polyline points="96.4,1451.9 597.65,1444.7 684.8,1194.3" stroke="#3cb45a"/>
<polyline points="96.4,1411.9 597.65,1481.1 684.8,1306.1" stroke="#58a8a0"/>
<polyline points="96.4,1416.0 597.65,1458.4 684.8,1274.2" stroke="#3cb45a"/>
<polyline points="96.4,1475.7 597.65,1482.4 684.8,1345.4" stroke="#3cb45a"/>
<polyline points="96.4,1375.4 597.65,1421.7 684.8,1174.7" stroke="#58a8a0"/>
<polyline points="96.4,1501.0 597.65,1448.4 684.8,1312.3" stroke="#58a8a0"/>
<polyline points="96.4,1297.3 597.65,1427.0 684.8,1292.5" stroke="#58a8a0"/>
<polyline points="96.4,1414.2 597.65,1432.4 684.8,1317.1" stroke="#3cb45a"/>
<polyline points="96.4,1373.7 597.65,1416.1 684.8,1314.1" stroke="#3cb45a"/>
<polyline points="96.4,1457.0 597.65,1466.4 684.8,1238.4" stroke="#3cb45a"/>
<polyline points="96.4,1485.6 597.65,1474.7 684.8,1331.4" stroke="#58a8a0"/>
<polyline points="96.4,1365.7 597.65,1430.4 684.8,1292.0" stroke="#3cb45a"/>
<polyline points="96.4,1339.4 597.65,1458.6 684.8,1251.7" stroke="#58a8a0"/>
<polyline points="96.4,1402.6 597.65,1466.2 684.8,1227.4" stroke="#3cb45a"/>
</g>
<line x1="96.2" y1="1327.8" x2="96.2" y2="1343" stroke="#f0cd35" stroke-width="2"/>
<line x1="96.2" y1="1343" x2="96.2" y2="1466.1" stroke="#46734f" stroke-width="2"/>
<line x1="597.65" y1="1413.8" x2="597.65" y2="1426.2" stroke="#b05a9a" stroke-width="2"/>
<line x1="597.65" y1="1426.2" x2="597.65" y2="1440.2" stroke="#4b4f8f" stroke-width="2"/>
<line x1="597.65" y1="1440.2" x2="597.65" y2="1486.2" stroke="#46734f" stroke-width="2"/>
<line x1="597.65" y1="1486.2" x2="597.65" y2="1497.7" stroke="#4b4f8f" stroke-width="2"/>
<line x1="684.6" y1="1222" x2="684.6" y2="1238.4" stroke="#4aa59c" stroke-width="2"/>
<line x1="684.6" y1="1238.4" x2="684.6" y2="1253.6" stroke="#34507f" stroke-width="2"/>
<line x1="684.6" y1="1253.6" x2="684.6" y2="1342.2" stroke="#46734f" stroke-width="2"/>
<line x1="684.6" y1="1342.2" x2="684.6" y2="1366.1" stroke="#34507f" stroke-width="2"/>
<line x1="684.6" y1="1366.1" x2="684.6" y2="1388.9" stroke="#4aa59c" stroke-width="2"/>
<polyline points="96.4,1413.4 597.65,1458.2 684.8,1295.0" fill="none" stroke="#761a8c" stroke-opacity="0.72" stroke-width="2.1" stroke-linejoin="round"/>
<circle cx="96.4" cy="1413.4" r="4.6" fill="#761a8c" fill-opacity="0.65" stroke="#5c0a72" stroke-opacity="0.72" stroke-width="1.4"/>
<circle cx="597.65" cy="1458.2" r="4.6" fill="#761a8c" fill-opacity="0.65" stroke="#5c0a72" stroke-opacity="0.72" stroke-width="1.4"/>
<circle cx="684.8" cy="1295.0" r="4.6" fill="#761a8c" fill-opacity="0.65" stroke="#5c0a72" stroke-opacity="0.72" stroke-width="1.4"/>
<polyline points="96.4,1387.8 597.65,1466.7 684.8,1309.7" fill="none" stroke="#e8d218" stroke-opacity="0.72" stroke-width="2.1" stroke-linejoin="round"/>
<circle cx="96.4" cy="1387.8" r="4.6" fill="#e8d218" fill-opacity="0.54" stroke="#e8d218" stroke-opacity="0.6" stroke-width="1.4"/>
<circle cx="597.65" cy="1466.7" r="4.6" fill="#e8d218" fill-opacity="0.54" stroke="#e8d218" stroke-opacity="0.6" stroke-width="1.4"/>
<circle cx="684.8" cy="1309.7" r="4.6" fill="#e8d218" fill-opacity="0.54" stroke="#e8d218" stroke-opacity="0.6" stroke-width="1.4"/>
<polyline points="96.4,1423.2 597.65,1458.2 684.8,1279.7" fill="none" stroke="#0a7e76" stroke-opacity="0.78" stroke-width="2.1" stroke-linejoin="round"/>
<circle cx="96.4" cy="1423.2" r="4.6" fill="#0a7e76" fill-opacity="0.65" stroke="#03625c" stroke-opacity="0.72" stroke-width="1.4"/>
<circle cx="597.65" cy="1458.2" r="4.6" fill="#0a7e76" fill-opacity="0.65" stroke="#03625c" stroke-opacity="0.72" stroke-width="1.4"/>
<circle cx="684.8" cy="1279.7" r="4.6" fill="#0a7e76" fill-opacity="0.65" stroke="#03625c" stroke-opacity="0.72" stroke-width="1.4"/>
<circle cx="684.8" cy="351.0" r="4.7" fill="#2c5a86" fill-opacity="0.92" stroke="#1c3c62" stroke-opacity="0.9" stroke-width="1.4"/>
<circle cx="597.65" cy="1458.2" r="4.7" fill="#2c5a86" fill-opacity="0.92" stroke="#1c3c62" stroke-opacity="0.9" stroke-width="1.4"/>
<rect x="75.3" y="583.4" width="142" height="75.3" rx="4" fill="#fff" fill-opacity="0.85" stroke="#cccccc" stroke-width="1.1"/>
<line x1="81.4" y1="596.6" x2="113" y2="596.6" stroke="#b870b5" stroke-width="2.6"/>
<text x="126.6" y="601.5" font-size="15.7" fill="#000" stroke="#000" stroke-width="0.35" textLength="31.8" lengthAdjust="spacingAndGlyphs">AHL</text>
<line x1="81.4" y1="619.9" x2="113" y2="619.9" stroke="#f0e35c" stroke-width="2.6"/>
<text x="126.6" y="625.5" font-size="15.7" fill="#000" stroke="#000" stroke-width="0.35" textLength="83.6" lengthAdjust="spacingAndGlyphs">AHL/NAME</text>
<line x1="81.4" y1="643.3" x2="113" y2="643.3" stroke="#6cbcb0" stroke-width="2.6"/>
<text x="126.6" y="648.9" font-size="15.7" fill="#000" stroke="#000" stroke-width="0.35" textLength="46.8" lengthAdjust="spacingAndGlyphs">NAME</text>
</g></svg></body></html>
